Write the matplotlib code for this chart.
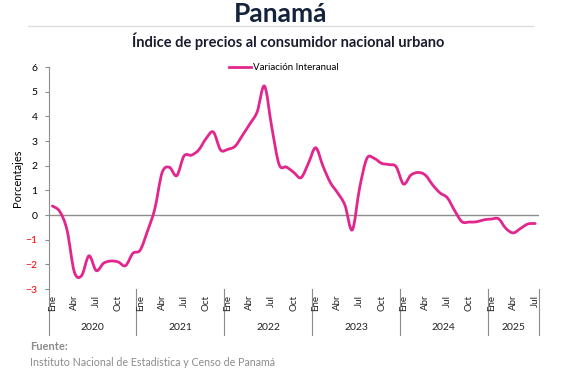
import numpy as np
import matplotlib.pyplot as plt
from matplotlib.path import Path
from matplotlib.patches import PathPatch
from matplotlib.lines import Line2D

plt.rcParams['font.family'] = ['Lato', 'DejaVu Sans']

years = ['2020', '2021', '2022', '2023', '2024', '2025']
month_names = ['Ene', 'Abr', 'Jul', 'Oct']
serie = 'Variación Interanual'
# variacion interanual mensual, ene 2020 - jul 2025
valores = [0.37, 0.15, -0.6, -2.3, -2.45, -1.65, -2.25, -1.95, -1.86, -1.9, -2.05, -1.55,
           -1.42, -0.65, 0.25, 1.72, 1.94, 1.6, 2.4, 2.43, 2.64, 3.1, 3.37, 2.64,
           2.67, 2.8, 3.24, 3.7, 4.19, 5.23, 3.55, 2.05, 1.95, 1.73, 1.52, 2.1,
           2.73, 1.98, 1.32, 0.9, 0.4, -0.6, 1.1, 2.3, 2.3, 2.1, 2.05, 1.96,
           1.26, 1.62, 1.73, 1.62, 1.22, 0.9, 0.7, 0.18, -0.27, -0.28, -0.27, -0.19,
           -0.16, -0.15, -0.54, -0.72, -0.54, -0.36, -0.34]

rosa = '#e3268d'
gris = '#8c8c8c'

fig = plt.figure(figsize=(5.8, 3.75), dpi=100)
ax = fig.add_axes([0.084, 0.229, 0.845, 0.592])

x = np.arange(len(valores))
y = np.array(valores)

# linea suavizada (catmull-rom como curvas bezier)
verts = [(x[0], y[0])]
codes = [Path.MOVETO]
n = len(x)
for i in range(n - 1):
    p0 = np.array([x[max(i - 1, 0)], y[max(i - 1, 0)]])
    p1 = np.array([x[i], y[i]])
    p2 = np.array([x[i + 1], y[i + 1]])
    p3 = np.array([x[min(i + 2, n - 1)], y[min(i + 2, n - 1)]])
    c1 = p1 + (p2 - p0) / 6
    c2 = p2 - (p3 - p1) / 6
    verts += [tuple(c1), tuple(c2), tuple(p2)]
    codes += [Path.CURVE4] * 3
ax.add_patch(PathPatch(Path(verts, codes), fill=False, edgecolor=rosa, lw=2,
                       capstyle='round', joinstyle='round', zorder=3))

ax.axhline(0, color=gris, lw=1, zorder=2)
ax.set_xlim(-0.5, n - 0.5)
ax.set_ylim(-3, 6)
ax.set_yticks(range(-3, 7))
ax.tick_params(axis='y', length=3, color=gris, labelsize=7.5, pad=5)
for t, v in zip(ax.get_yticklabels(), range(-3, 7)):
    if v < 0:
        t.set_color('red')
ax.set_ylabel('Porcentajes', fontsize=8, labelpad=2)

for s in ['top', 'right', 'bottom']:
    ax.spines[s].set_visible(False)
ax.spines['left'].set_color(gris)
ax.set_xticks([])

# etiquetas de meses y años
trans = ax.get_xaxis_transform()
for k, yr in enumerate(years):
    meses = [m for m in range(12 * k, 12 * k + 12) if m < n]
    for j, m in enumerate(meses):
        if j % 3 == 0:
            ax.text(m, -0.025, month_names[j // 3], transform=trans, rotation=90,
                    ha='center', va='top', fontsize=7, color='#222222')
    ax.text(np.mean(meses), -0.175, yr, transform=trans, ha='center', va='center',
            fontsize=7.5, color='#222222')
    ax.plot([meses[0] - 0.5] * 2, [0, -0.205], transform=trans, color=gris,
            lw=0.8, clip_on=False)
ax.plot([n - 0.5] * 2, [0, -0.205], transform=trans, color=gris, lw=0.8, clip_on=False)

fig.legend([Line2D([], [], color=rosa, lw=2)], [serie], loc='center',
           bbox_to_anchor=(284 / 580, 1 - 68 / 375), frameon=False, fontsize=7,
           handlelength=2.2, handletextpad=0.2)

# titulos
fig.text(0.484, 1 - 14 / 375, 'Panamá', ha='center', va='center', fontsize=19,
         fontweight='bold', color='#14233c')
fig.add_artist(Line2D([28 / 580, 533 / 580], [1 - 26 / 375] * 2, color='#dcdcdc', lw=1))
fig.text(0.497, 1 - 41 / 375, 'Índice de precios al consumidor nacional urbano',
         ha='center', va='center', fontsize=10.5, fontweight='bold', color='#1c1c30')

fig.text(30 / 580, 1 - 347 / 375, 'Fuente:', ha='left', va='center', fontsize=8,
         fontweight='bold', color='#8c8c8c')
fig.text(30 / 580, 1 - 362 / 375, 'Instituto Nacional de Estadística y Censo de Panamá',
         ha='left', va='center', fontsize=7.7, color='#8c8c8c')

plt.savefig('out.png', dpi=100)
